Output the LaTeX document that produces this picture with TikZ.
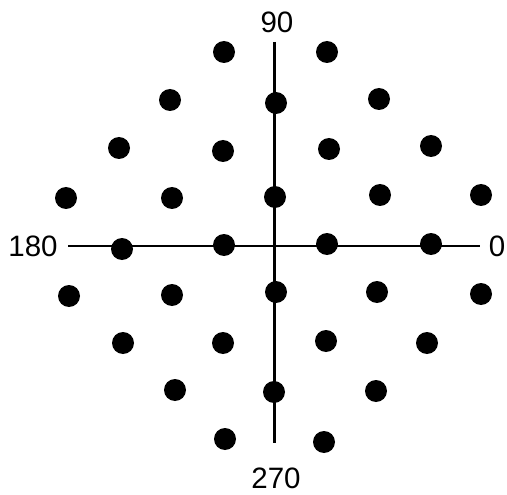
\documentclass[tikz,border=0pt]{standalone}
\usepackage{fontspec}
\setmainfont{Liberation Sans}
\usepackage{tikz}
\usetikzlibrary{positioning}

\begin{document}
\begin{tikzpicture}[
    x=1pt, y=-1pt,
    dot/.style={circle, fill=black, inner sep=0pt, minimum size=22pt},
    axis/.style={line width=2.2pt},
    label/.style={inner sep=0pt, font=\fontsize{29.5}{34}\selectfont}
]
\useasboundingbox (0,0) rectangle (507,495);

% axes
\coordinate (north) at (274.5,42);
\coordinate (south) at (274.5,443);
\coordinate (west) at (68,246);
\coordinate (east) at (480,246);
\draw[axis] (north) -- (south);
\draw[axis] (west) -- (east);

\node[label] (deg90) at (277,22) {90};
\node[label] (deg270) at (276,478) {270};
\node[label] (deg180) at (33,246) {180};
\node[label] (deg0) at (497,246) {0};

% dots, row by row from the top
\node[dot] (r1a) at (224,52) {};
\node[dot] (r1b) at (327,52) {};

\node[dot] (r2a) at (170,100) {};
\node[dot] (r2b) at (276,103) {};
\node[dot] (r2c) at (379,99) {};

\node[dot] (r3a) at (119,148) {};
\node[dot] (r3b) at (223,151) {};
\node[dot] (r3c) at (329,149) {};
\node[dot] (r3d) at (431,146) {};

\node[dot] (r4a) at (66,198) {};
\node[dot] (r4b) at (172,198) {};
\node[dot] (r4c) at (275,197) {};
\node[dot] (r4d) at (380,195) {};
\node[dot] (r4e) at (481,195) {};

\node[dot] (r5a) at (122,249) {};
\node[dot] (r5b) at (224,245) {};
\node[dot] (r5c) at (327,244) {};
\node[dot] (r5d) at (431,244) {};

\node[dot] (r6a) at (69,296) {};
\node[dot] (r6b) at (172,295) {};
\node[dot] (r6c) at (276,292) {};
\node[dot] (r6d) at (377,292) {};
\node[dot] (r6e) at (481,294) {};

\node[dot] (r7a) at (123,343) {};
\node[dot] (r7b) at (223,343) {};
\node[dot] (r7c) at (326,341) {};
\node[dot] (r7d) at (427,343) {};

\node[dot] (r8a) at (175,390) {};
\node[dot] (r8b) at (274,392) {};
\node[dot] (r8c) at (376,391) {};

\node[dot] (r9a) at (225,439) {};
\node[dot] (r9b) at (324,442) {};
\end{tikzpicture}
\end{document}
